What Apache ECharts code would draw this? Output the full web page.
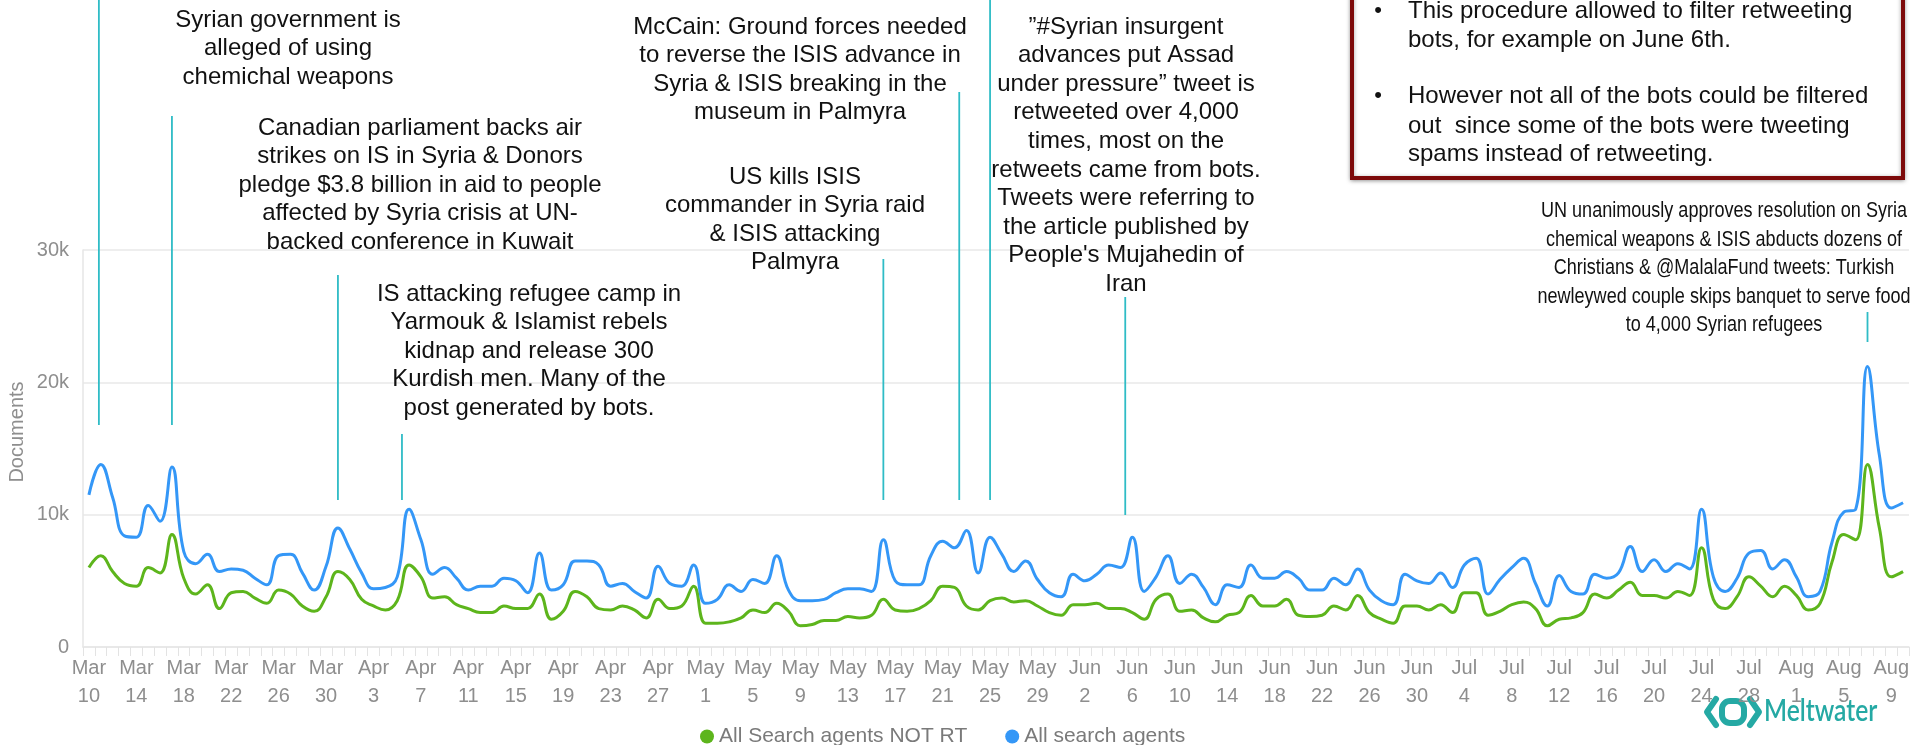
<!DOCTYPE html>
<html>
<head>
<meta charset="utf-8">
<script src="https://cdn.jsdelivr.net/npm/echarts@6/dist/echarts.min.js"></script>
<style>
  html, body { margin: 0; padding: 0; background: #fff; }
  #main { width: 1915px; height: 745px; }
</style>
</head>
<body>
<div id="main"></div>
<script>
// categories: one per day, Mar 10 - Aug 10
var days = [
  'Mar 10','Mar 11','Mar 12','Mar 13','Mar 14','Mar 15','Mar 16','Mar 17','Mar 18','Mar 19','Mar 20','Mar 21','Mar 22','Mar 23','Mar 24','Mar 25','Mar 26','Mar 27','Mar 28','Mar 29','Mar 30','Mar 31',
  'Apr 1','Apr 2','Apr 3','Apr 4','Apr 5','Apr 6','Apr 7','Apr 8','Apr 9','Apr 10','Apr 11','Apr 12','Apr 13','Apr 14','Apr 15','Apr 16','Apr 17','Apr 18','Apr 19','Apr 20','Apr 21','Apr 22','Apr 23','Apr 24','Apr 25','Apr 26','Apr 27','Apr 28','Apr 29','Apr 30',
  'May 1','May 2','May 3','May 4','May 5','May 6','May 7','May 8','May 9','May 10','May 11','May 12','May 13','May 14','May 15','May 16','May 17','May 18','May 19','May 20','May 21','May 22','May 23','May 24','May 25','May 26','May 27','May 28','May 29','May 30','May 31',
  'Jun 1','Jun 2','Jun 3','Jun 4','Jun 5','Jun 6','Jun 7','Jun 8','Jun 9','Jun 10','Jun 11','Jun 12','Jun 13','Jun 14','Jun 15','Jun 16','Jun 17','Jun 18','Jun 19','Jun 20','Jun 21','Jun 22','Jun 23','Jun 24','Jun 25','Jun 26','Jun 27','Jun 28','Jun 29','Jun 30',
  'Jul 1','Jul 2','Jul 3','Jul 4','Jul 5','Jul 6','Jul 7','Jul 8','Jul 9','Jul 10','Jul 11','Jul 12','Jul 13','Jul 14','Jul 15','Jul 16','Jul 17','Jul 18','Jul 19','Jul 20','Jul 21','Jul 22','Jul 23','Jul 24','Jul 25','Jul 26','Jul 27','Jul 28','Jul 29','Jul 30','Jul 31',
  'Aug 1','Aug 2','Aug 3','Aug 4','Aug 5','Aug 6','Aug 7','Aug 8','Aug 9','Aug 10'
];

var allAgents = [
  11500,13800,11300,8400,8300,10700,9500,13600,7200,6300,7000,5700,5900,5800,5200,4700,6900,7000,5600,4300,6100,9000,
  7400,5600,4400,4500,5300,10400,8100,5500,6000,5200,4300,4600,4600,5200,5000,4100,7100,4300,4700,6500,6500,6200,4600,4800,4200,3700,6100,4800,4600,6200,
  3300,3600,4700,4200,5100,4800,6900,4300,3500,3500,3600,4100,4400,4400,4200,8100,5000,4700,4700,6900,8000,7500,8800,5600,8300,7000,5700,6500,5100,
  4100,3800,5500,5000,5500,6200,6000,8300,4200,5300,6900,4800,5500,4500,3200,4700,4500,6200,5200,5200,5700,5200,4300,4300,5200,4700,5900,4300,3500,3200,
  5500,5000,4800,5600,4500,6200,6700,4000,5100,6000,6700,4800,3100,5400,4200,4000,5500,5200,5600,7600,5700,6600,5700,6300,5900,10400,5300,4200,5200,7100,7300,
  5900,6600,5300,3800,4200,7900,10200,10400,21200,14500,10500,10900
];

var notRT = [
  6000,6900,5700,4800,4600,6000,5600,8500,5200,4000,4700,2900,4100,4200,3700,3300,4300,4000,3100,2700,3800,5700,
  5100,3600,3100,2800,3500,6200,5300,3700,3800,3200,2900,2600,2600,3100,2900,2900,4000,2100,2700,4200,3800,2900,2800,3100,2800,2200,3600,2900,3100,4600,
  1800,1800,1900,2200,2800,2600,3300,2700,1600,1700,2000,2000,2300,2200,2400,3600,2800,2700,2900,3500,4600,4500,3100,2800,3500,3700,3400,3500,3100,
  2600,2400,3200,3200,3300,2900,2900,2600,2100,3600,4000,2700,2800,2200,1900,2400,2600,3900,3100,3100,3600,2400,2300,2400,3100,2800,3900,2600,2100,1800,
  3100,3100,2800,3200,2600,4100,4100,2400,2700,3200,3400,2900,1600,2100,2200,2600,4000,3700,4300,4900,3900,3900,3700,4200,3900,7500,3600,2900,3800,5300,4600,
  3800,4600,3900,2800,3300,6400,8500,8100,13800,9000,5300,5700
];

var yTickLabels = ['0', '10k', '20k', '30k'];

var seriesNames = ['All Search agents NOT RT', 'All search agents'];

// annotation texts (size in px, sx = horizontal squeeze)
var notes = [
  { x: 288,  y: 20,  size: 24, sx: 1, lines: ['Syrian government is', 'alleged of using', 'chemichal weapons'] },
  { x: 420,  y: 128, size: 24, sx: 1, lines: ['Canadian parliament backs air', 'strikes on IS in Syria & Donors', 'pledge $3.8 billion in aid to people', 'affected by Syria crisis at UN-', 'backed conference in Kuwait'] },
  { x: 529,  y: 294, size: 24, sx: 1, lines: ['IS attacking refugee camp in', 'Yarmouk & Islamist rebels', 'kidnap and release 300', 'Kurdish men. Many of the', 'post generated by bots.'] },
  { x: 800,  y: 27,  size: 24, sx: 1, lines: ['McCain: Ground forces needed', 'to reverse the ISIS advance in', 'Syria & ISIS breaking in the', 'museum in Palmyra'] },
  { x: 795,  y: 177, size: 24, sx: 1, lines: ['US kills ISIS', 'commander in Syria raid', '& ISIS attacking', 'Palmyra'] },
  { x: 1126, y: 27,  size: 24, sx: 1, lines: ['\u201d#Syrian insurgent', 'advances put Assad', 'under pressure\u201d tweet is', 'retweeted over 4,000', 'times, most on the', 'retweets came from bots.', 'Tweets were referring to', 'the article published by', "People's Mujahedin of", 'Iran'] },
  { x: 1724, y: 211, size: 22, sx: 0.82, lines: ['UN unanimously approves resolution on Syria', 'chemical weapons & ISIS abducts dozens of', 'Christians & @MalalaFund tweets: Turkish', 'newleywed couple skips banquet to serve food', 'to 4,000 Syrian refugees'] }
];

// pointer lines: day index, top and bottom in pixels
var pointers = [
  { d: 0.84, y1: 0,   y2: 425 },
  { d: 7,    y1: 116, y2: 425 },
  { d: 21,   y1: 275, y2: 500 },
  { d: 26.4, y1: 434, y2: 500 },
  { d: 67,   y1: 259, y2: 500 },
  { d: 73.4, y1: 92,  y2: 500 },
  { d: 76,   y1: 0,   y2: 500 },
  { d: 87.4, y1: 297, y2: 515 },
  { d: 150,  y1: 312, y2: 342 }
];

var boxLines = [
  { y: 11,  bullet: true,  text: 'This procedure allowed to filter retweeting' },
  { y: 40,  bullet: false, text: 'bots, for example on June 6th.' },
  { y: 96,  bullet: true,  text: 'However not all of the bots could be filtered' },
  { y: 126, bullet: false, text: 'out  since some of the bots were tweeting' },
  { y: 154, bullet: false, text: 'spams instead of retweeting.' }
];

var FONT = '"Liberation Sans", Arial, sans-serif';

var chart = echarts.init(document.getElementById('main'));

var option = {
  animation: false,
  color: ['#5db51c', '#3497f7'],
  grid: { left: 83, right: 6, top: 250, bottom: 98 },
  legend: {
    data: seriesNames,
    left: 695,
    top: 721,
    icon: 'circle',
    itemWidth: 14,
    itemHeight: 14,
    itemGap: 38,
    textStyle: { fontSize: 21, color: '#7a7a7a', fontFamily: FONT }
  },
  xAxis: {
    type: 'category',
    data: days,
    boundaryGap: true,
    axisLine: { show: true, lineStyle: { color: '#e6e6e6', width: 1.5 } },
    axisTick: { show: true, interval: 0, length: 9, lineStyle: { color: '#e3e3e3' } },
    axisLabel: {
      interval: 3,
      margin: 7,
      color: '#8e8e8e',
      fontSize: 20,
      lineHeight: 28,
      fontFamily: FONT,
      formatter: function (v) { return v.replace(' ', '\n'); }
    }
  },
  yAxis: {
    type: 'value',
    min: 0,
    max: 30000,
    interval: 10000,
    axisLine: { show: true, lineStyle: { color: '#e6e6e6', width: 1.5 } },
    axisTick: { show: false },
    splitLine: { lineStyle: { color: '#e8e8e8', width: 1.5 } },
    axisLabel: {
      margin: 14,
      color: '#8e8e8e',
      fontSize: 20,
      fontFamily: FONT,
      formatter: function (v) { return yTickLabels[Math.round(v / 10000)]; }
    }
  },
  series: [
    {
      name: seriesNames[0],
      type: 'line',
      data: notRT,
      smooth: 0.45,
      showSymbol: false,
      lineStyle: { width: 3 }
    },
    {
      name: seriesNames[1],
      type: 'line',
      data: allAgents,
      smooth: 0.45,
      showSymbol: false,
      lineStyle: { width: 3 }
    }
  ]
};

chart.setOption(option);

// x position of a (possibly fractional) day index
function dayX(d) {
  var i = Math.floor(d), f = d - i;
  var a = chart.convertToPixel({ xAxisIndex: 0 }, i);
  var b = chart.convertToPixel({ xAxisIndex: 0 }, i + 1);
  return a + (b - a) * f;
}

var elements = [];

pointers.forEach(function (p) {
  var x = dayX(p.d);
  elements.push({
    type: 'line',
    shape: { x1: x, y1: p.y1, x2: x, y2: p.y2 },
    style: { stroke: '#2fbcc6', lineWidth: 1.8 },
    z: 5
  });
});

notes.forEach(function (n) {
  var lh = 28.6;
  elements.push({
    type: 'text',
    x: n.x,
    y: n.y - lh / 2,
    scaleX: n.sx,
    style: {
      text: n.lines.join('\n'),
      font: n.size + 'px ' + FONT,
      fill: '#111',
      align: 'center',
      verticalAlign: 'top',
      lineHeight: lh
    },
    z: 10
  });
});

// red note box
elements.push({
  type: 'rect',
  shape: { x: 1352, y: -10, width: 551, height: 188 },
  style: { fill: '#fff', stroke: '#7d0a0a', lineWidth: 4,
           shadowBlur: 4, shadowColor: 'rgba(0,0,0,0.35)', shadowOffsetY: 1 },
  z: 8
});
boxLines.forEach(function (l) {
  if (l.bullet) {
    elements.push({
      type: 'text', x: 1378, y: l.y,
      style: { text: '\u2022', font: '22px ' + FONT, fill: '#111', align: 'center', verticalAlign: 'middle' },
      z: 10
    });
  }
  elements.push({
    type: 'text', x: 1408, y: l.y,
    style: { text: l.text, font: '24px ' + FONT, fill: '#111', align: 'left', verticalAlign: 'middle' },
    z: 10
  });
});

// y axis name
elements.push({
  type: 'text',
  x: 17, y: 432,
  rotation: Math.PI / 2,
  style: { text: 'Documents', font: '20px ' + FONT, fill: '#8e8e8e', align: 'center', verticalAlign: 'middle' }
});

// Meltwater logo
var teal = '#25a9a4';
elements.push({
  type: 'polyline',
  shape: { points: [[1716, 699], [1707, 712], [1716, 725]] },
  style: { stroke: teal, lineWidth: 6, fill: null, lineCap: 'round', lineJoin: 'round' }
});
elements.push({
  type: 'rect',
  shape: { x: 1722, y: 701, width: 22, height: 22, r: 8 },
  style: { stroke: teal, lineWidth: 6, fill: null }
});
elements.push({
  type: 'polyline',
  shape: { points: [[1750, 699], [1759, 712], [1750, 725]] },
  style: { stroke: teal, lineWidth: 6, fill: null, lineCap: 'round', lineJoin: 'round' }
});
elements.push({
  type: 'text',
  x: 1764, y: 711,
  scaleX: 0.82,
  style: { text: 'Meltwater', font: '600 30px Lato, "Open Sans", sans-serif', fill: teal, align: 'left', verticalAlign: 'middle' }
});

chart.setOption({ graphic: { elements: elements } });
</script>
</body>
</html>
